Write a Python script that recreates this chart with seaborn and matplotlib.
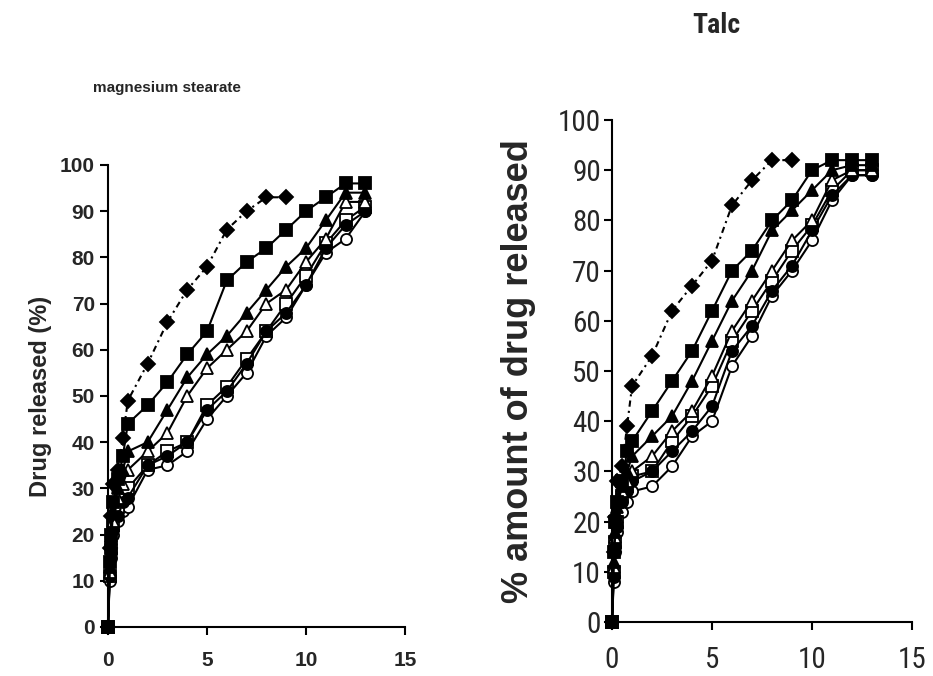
import matplotlib
matplotlib.use("Agg")
import matplotlib.pyplot as plt
from matplotlib import font_manager
import seaborn as sns

# sampling times (h)
time = [0, 0.083, 0.167, 0.25, 0.5, 0.75, 1, 2, 3, 4, 5, 6, 7, 8, 9, 10, 11, 12, 13]

# magnesium stearate (left panel)
mg_diamond = [0, 17, 24, 31, 34, 41, 49, 57, 66, 73, 78, 86, 90, 93, 93]
mg_square = [0, 14, 20, 27, 32, 37, 44, 48, 53, 59, 64, 75, 79, 82, 86, 90, 93, 96, 96]
mg_triangle = [0, 13, 19, 25, 30, 34, 38, 40, 47, 54, 59, 63, 68, 73, 78, 82, 88, 94, 94]
mg_triangle_open = [0, 12, 18, 23, 28, 31, 34, 38, 42, 50, 56, 60, 64, 70, 73, 79, 84, 92, 92]
mg_square_open = [0, 11, 17, 22, 26, 28, 30, 35, 38, 40, 48, 52, 58, 64, 70, 76, 83, 88, 91]
mg_circle = [0, 11, 16, 21, 24, 27, 28, 35, 37, 40, 47, 51, 57, 64, 68, 74, 82, 87, 90]
mg_circle_open = [0, 10, 15, 20, 23, 25, 26, 34, 35, 38, 45, 50, 55, 63, 67, 74, 81, 84, 90]

# talc (right panel)
tc_diamond = [0, 14, 21, 28, 31, 39, 47, 53, 62, 67, 72, 83, 88, 92, 92]
tc_square = [0, 14, 20, 24, 28, 34, 36, 42, 48, 54, 62, 70, 74, 80, 84, 90, 92, 92, 92]
tc_triangle = [0, 12, 18, 23, 27, 30, 33, 37, 41, 48, 56, 64, 70, 78, 82, 86, 90, 91, 91]
tc_triangle_open = [0, 11, 17, 21, 26, 28, 30, 33, 38, 42, 49, 58, 64, 70, 76, 80, 88, 90, 90]
tc_square_open = [0, 10, 16, 20, 25, 27, 29, 30, 36, 41, 47, 56, 62, 68, 74, 79, 86, 90, 90]
tc_circle = [0, 9, 15, 19, 24, 26, 28, 30, 34, 38, 43, 54, 59, 66, 71, 78, 85, 89, 89]
tc_circle_open = [0, 8, 14, 18, 22, 24, 26, 27, 31, 37, 40, 51, 57, 65, 70, 76, 84, 89, 89]

# drawing order: open circle first, filled square last (on top)
order = ["circle_open", "square_open", "circle", "triangle_open",
         "triangle", "diamond", "square"]
styles = {"diamond": ("D", "black", (0, (3, 2, 1, 2))),
          "square": ("s", "black", "-"),
          "triangle": ("^", "black", "-"),
          "triangle_open": ("^", "white", "-"),
          "square_open": ("s", "white", "-"),
          "circle": ("o", "black", "-"),
          "circle_open": ("o", "white", "-")}

mg_series = {"diamond": mg_diamond, "square": mg_square, "triangle": mg_triangle,
             "triangle_open": mg_triangle_open, "square_open": mg_square_open,
             "circle": mg_circle, "circle_open": mg_circle_open}
tc_series = {"diamond": tc_diamond, "square": tc_square, "triangle": tc_triangle,
             "triangle_open": tc_triangle_open, "square_open": tc_square_open,
             "circle": tc_circle, "circle_open": tc_circle_open}

sns.set_style("ticks")
plt.rcParams["font.family"] = ["Liberation Sans", "DejaVu Sans"]


def narrow_font(bold, size):
    # look for an installed narrow / condensed sans face
    best = None
    for f in font_manager.fontManager.ttflist:
        key = (f.name + " " + f.fname).lower()
        if ("narrow" not in key and "condensed" not in key) or f.style != "normal":
            continue
        if "semi" in key or "light" in key or "extra" in key:
            continue
        w = f.weight if isinstance(f.weight, int) else (700 if "bold" in str(f.weight) else 400)
        if (w >= 600) != bold:
            continue
        if "liberation" in key:
            rank = 0
        elif "arial" in key:
            rank = 1
        elif "roboto" in key:
            rank = 2
        else:
            rank = 3
        if best is None or rank < best[0]:
            best = (rank, f.fname)
    if best:
        return font_manager.FontProperties(fname=best[1], size=size), True
    return font_manager.FontProperties(family="Liberation Sans", size=size,
                                       weight="bold" if bold else "normal"), False


fig = plt.figure(figsize=(9.33, 6.76), dpi=100)
ax1 = fig.add_axes([0.1158, 0.0725, 0.3183, 0.6835])
ax2 = fig.add_axes([0.656, 0.0799, 0.3215, 0.7426])

for ax, series in [(ax1, mg_series), (ax2, tc_series)]:
    for name in order:
        vals = series[name]
        m, fc, ls = styles[name]
        sns.lineplot(x=time[:len(vals)], y=vals, ax=ax, color="black", marker=m,
                     markersize=7 if m == "D" else 8, markerfacecolor=fc,
                     markeredgecolor="black", markeredgewidth=1.3,
                     linewidth=1.5, linestyle=ls, clip_on=False,
                     legend=False, errorbar=None, sort=False)
    ax.set_xlim(0, 15)
    ax.set_ylim(0, 100)
    ax.set_xticks([0, 5, 10, 15])
    ax.set_yticks(range(0, 101, 10))
    sns.despine(ax=ax)
    for s in ["left", "bottom"]:
        ax.spines[s].set_linewidth(1.5)
        ax.spines[s].set_color("black")
    ax.tick_params(length=6, width=1.5, color="black")
    ax.set_xlabel("")

# left panel text
ax1.tick_params(axis="x", pad=11)
for lab in ax1.get_xticklabels() + ax1.get_yticklabels():
    lab.set_fontsize(15)
    lab.set_fontweight("bold")
ax1.set_ylabel("Drug released (%)", fontsize=17, fontweight="bold", labelpad=6)
fig.text(0.1, 0.87, "magnesium stearate", fontsize=11, fontweight="bold",
         ha="left", va="center")

# right panel text
tick_fp, is_narrow = narrow_font(False, 21)
ax2.tick_params(axis="x", pad=11)
ax2.tick_params(axis="y", pad=2)
for lab in ax2.get_xticklabels() + ax2.get_yticklabels():
    lab.set_fontproperties(tick_fp)
ax2.set_ylabel("% amount of drug released", fontsize=26, fontweight="bold",
               labelpad=16)
title_fp, _ = narrow_font(True, 20)
fig.text(0.768, 0.962, "Talc", fontproperties=title_fp, fontweight="bold",
         ha="center", va="center")

fig.savefig("out.png", dpi=100)
